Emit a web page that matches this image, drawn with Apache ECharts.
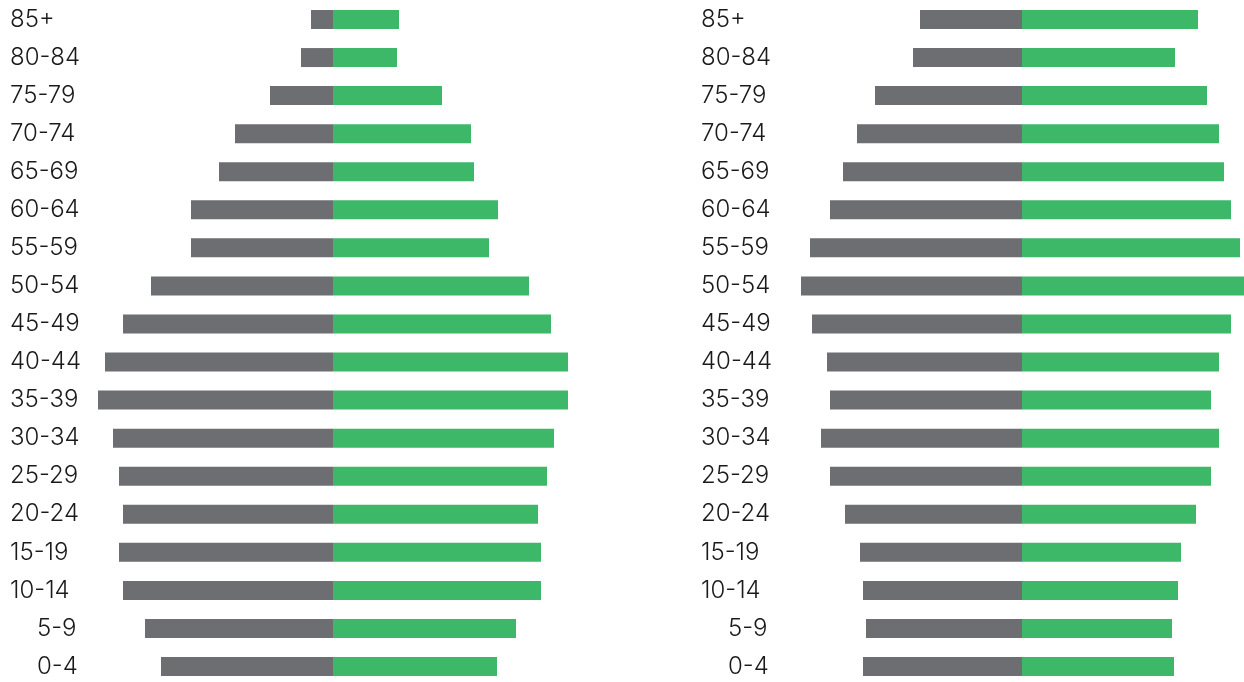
<!DOCTYPE html>
<html>
<head>
<meta charset="utf-8">
<script src="https://cdn.jsdelivr.net/npm/echarts@6/dist/echarts.min.js"></script>
<style>
html,body{margin:0;padding:0;background:#fff;}
#c{width:1244px;height:682px;}
</style>
</head>
<body>
<div id="c"></div>
<script>
// Age groups, bottom to top
const categories = ['0-4','5-9','10-14','15-19','20-24','25-29','30-34','35-39','40-44','45-49','50-54','55-59','60-64','65-69','70-74','75-79','80-84','85+'];
// Left pyramid
const leftGrey  = [172,188,210,214,210,214,220,235,228,210,182,142,142,114,98,63,32,22];
const leftGreen = [164,183,208,208,205,214,221,235,235,218,196,156,165,141,138,109,64,66];
// Right pyramid
const rightGrey  = [159,156,159,162,177,192,201,192,195,210,221,212,192,179,165,147,109,102];
const rightGreen = [152,150,156,159,174,189,197,189,197,209,223,218,209,202,197,185,153,176];

const GREY = '#6d6e72', GREEN = '#3cb868', TEXT = '#1a1a1a';
const FONT = 'Inter, "Liberation Sans", sans-serif';
const padded = ['5-9','0-4'];

function yAxisCfg(idx, margin){
  return {
    type:'category', gridIndex: idx, data: categories, boundaryGap:false,
    axisLine:{show:false}, axisTick:{show:false}, splitLine:{show:false},
    axisLabel:{
      align:'left', margin: margin, fontFamily: FONT, fontSize: 24, color: TEXT, fontWeight: 300,
      formatter: v => padded.includes(v) ? '{p|' + v + '}' : v,
      rich:{ p:{ padding:[0,0,0,27], fontFamily: FONT, fontSize: 24, color: TEXT, fontWeight: 300 } }
    }
  };
}
function xAxisCfg(idx, min, max){
  return { type:'value', gridIndex: idx, min:min, max:max, show:false };
}
function bars(idx, vals, color, neg){
  return {
    type:'bar', xAxisIndex: idx, yAxisIndex: idx, barWidth: 19, barGap:'-100%', clip:false,
    data: vals.map(v => neg ? -v : v), itemStyle:{color: color}, silent:true
  };
}

const chart = echarts.init(document.getElementById('c'), null, {renderer:'canvas'});
chart.setOption({
  animation:false,
  backgroundColor:'#fff',
  grid:[
    {left:83, top:19.5, width:500, bottom:15.5, containLabel:false},
    {left:772, top:19.5, width:472, bottom:15.5, containLabel:false}
  ],
  xAxis:[xAxisCfg(0, -250, 250), xAxisCfg(1, -250, 222)],
  yAxis:[yAxisCfg(0, 73), yAxisCfg(1, 71)],
  series:[
    bars(0, leftGrey, GREY, true),
    bars(0, leftGreen, GREEN, false),
    bars(1, rightGrey, GREY, true),
    bars(1, rightGreen, GREEN, false)
  ]
});
</script>
</body>
</html>
